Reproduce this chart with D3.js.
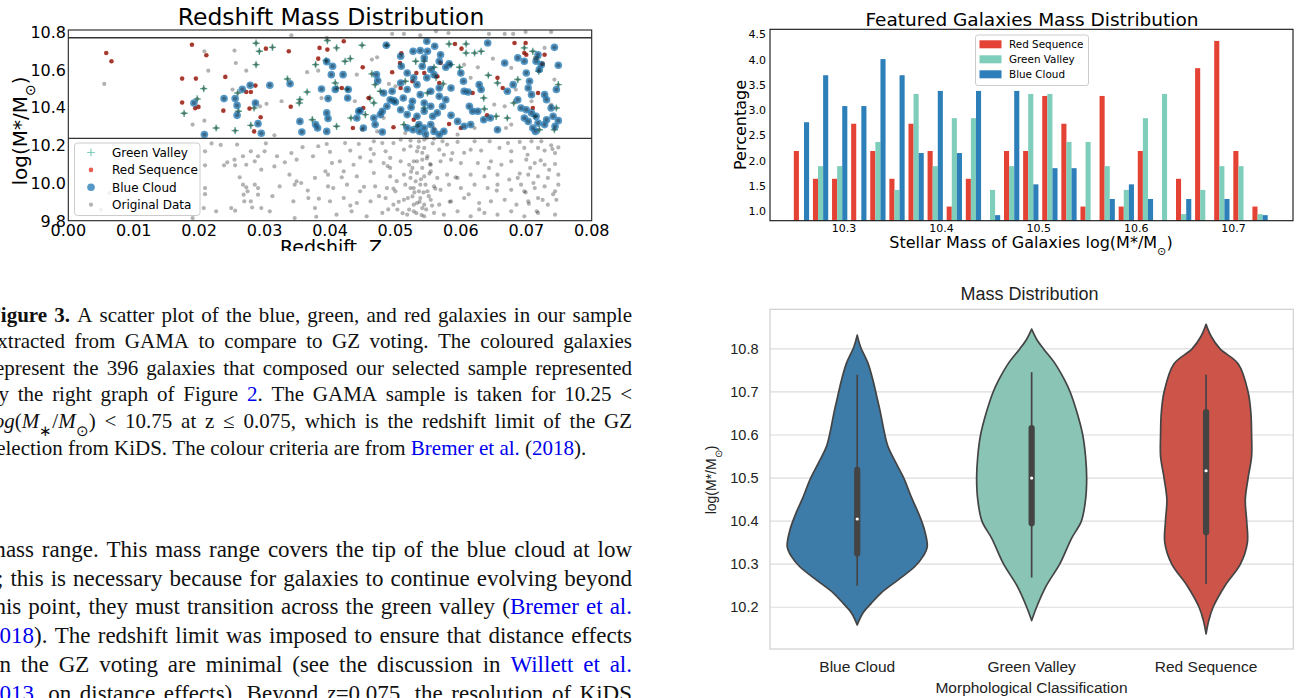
<!DOCTYPE html>
<html>
<head>
<meta charset="utf-8">
<script src="https://cdn.jsdelivr.net/npm/d3@7"></script>
<style>
  html, body { margin: 0; padding: 0; background: #fff; }
  svg { display: block; }
</style>
</head>
<body>
<svg id="fig" width="1301" height="698"></svg>
<script>
// ---------------------------------------------------------------
// Data
// ---------------------------------------------------------------

// Redshift / stellar-mass scatter: [z, log(M*/Msun)]
const zTicks = [0, 0.01, 0.02, 0.03, 0.04, 0.05, 0.06, 0.07, 0.08];
const massTicks = [9.8, 10.0, 10.2, 10.4, 10.6, 10.8];
const selectionBand = [10.237, 10.771];

const greenValley = [
  [0.0177,10.370],[0.0197,10.446],[0.0207,10.501],[0.0226,10.292],[0.0255,10.278],[0.0260,10.381],
  [0.0259,10.478],[0.0284,10.398],[0.0279,10.306],[0.0287,10.742],[0.0292,10.699],[0.0287,10.628],
  [0.0312,10.720],[0.0335,10.552],[0.0354,10.443],[0.0353,10.425],[0.0365,10.483],[0.0373,10.336],
  [0.0378,10.628],[0.0396,10.756],[0.0410,10.717],[0.0449,10.731],[0.0487,10.731],[0.0394,10.650],
  [0.0423,10.646],[0.0431,10.660],[0.0411,10.504],[0.0426,10.499],[0.0408,10.531],[0.0464,10.579],
  [0.0469,10.522],[0.0477,10.487],[0.0461,10.451],[0.0467,10.425],[0.0515,10.540],[0.0531,10.646],
  [0.0544,10.646],[0.0559,10.614],[0.0562,10.561],[0.0573,10.526],[0.0582,10.738],[0.0608,10.738],
  [0.0621,10.690],[0.0631,10.699],[0.0608,10.690],[0.0585,10.628],[0.0598,10.614],[0.0642,10.572],
  [0.0656,10.531],[0.0681,10.425],[0.0635,10.451],[0.0636,10.393],[0.0654,10.354],[0.0671,10.345],
  [0.0687,10.549],[0.0697,10.717],[0.0710,10.699],[0.0717,10.664],[0.0719,10.593],[0.0749,10.522],
  [0.0746,10.398],[0.0713,10.354],[0.0743,10.283],[0.0720,10.283],[0.0513,10.310],[0.0533,10.301],
  [0.0549,10.478],[0.0544,10.398],[0.0410,10.301],[0.0432,10.345],[0.0454,10.363]
];

const redSequence = [
  [0.0058,10.690],[0.0066,10.646],[0.0189,10.734],[0.0174,10.554],[0.0195,10.554],[0.0211,10.678],
  [0.0174,10.427],[0.0194,10.397],[0.0199,10.404],[0.0240,10.563],[0.0237,10.384],[0.0272,10.483],
  [0.0279,10.483],[0.0286,10.517],[0.0277,10.395],[0.0294,10.349],[0.0284,10.274],[0.0302,10.713],
  [0.0337,10.699],[0.0340,10.405],[0.0384,10.717],[0.0382,10.660],[0.0421,10.752],[0.0396,10.708],
  [0.0450,10.614],[0.0495,10.588],[0.0509,10.688],[0.0507,10.637],[0.0508,10.504],[0.0526,10.540],
  [0.0532,10.584],[0.0544,10.584],[0.0564,10.566],[0.0567,10.531],[0.0569,10.637],[0.0591,10.738],
  [0.0601,10.713],[0.0618,10.478],[0.0640,10.359],[0.0656,10.558],[0.0664,10.504],[0.0682,10.743],
  [0.0699,10.743],[0.0700,10.681],[0.0718,10.478],[0.0710,10.398],[0.0697,10.690],[0.0725,10.632],
  [0.0728,10.681],[0.0418,10.504],[0.0451,10.398],[0.0528,10.336],[0.0582,10.313],[0.0600,10.292],
  [0.0497,10.296],[0.0435,10.292],[0.0459,10.451]
];

const blueCloud = [
  [0.0192,10.425],[0.0208,10.257],[0.0238,10.448],[0.0255,10.448],[0.0258,10.412],[0.0258,10.359],
  [0.0266,10.497],[0.0278,10.519],[0.0286,10.425],[0.0290,10.315],[0.0295,10.264],[0.0308,10.519],
  [0.0339,10.527],[0.0354,10.327],[0.0357,10.271],[0.0378,10.310],[0.0381,10.292],[0.0387,10.499],
  [0.0395,10.644],[0.0395,10.372],[0.0397,10.448],[0.0397,10.342],[0.0395,10.274],[0.0402,10.575],
  [0.0486,10.731],[0.0508,10.673],[0.0509,10.620],[0.0527,10.699],[0.0538,10.703],[0.0548,10.752],
  [0.0549,10.699],[0.0560,10.726],[0.0569,10.681],[0.0567,10.646],[0.0544,10.664],[0.0541,10.620],
  [0.0554,10.602],[0.0577,10.614],[0.0582,10.632],[0.0600,10.584],[0.0404,10.620],[0.0408,10.496],
  [0.0420,10.575],[0.0428,10.496],[0.0427,10.451],[0.0444,10.381],[0.0441,10.345],[0.0467,10.345],
  [0.0469,10.310],[0.0480,10.271],[0.0471,10.575],[0.0473,10.543],[0.0482,10.478],[0.0495,10.487],
  [0.0497,10.437],[0.0480,10.381],[0.0487,10.407],[0.0500,10.430],[0.0512,10.451],[0.0518,10.496],
  [0.0524,10.402],[0.0533,10.354],[0.0536,10.310],[0.0544,10.292],[0.0546,10.260],[0.0554,10.310],
  [0.0557,10.354],[0.0564,10.372],[0.0572,10.407],[0.0567,10.460],[0.0577,10.442],[0.0585,10.359],
  [0.0595,10.327],[0.0605,10.487],[0.0604,10.540],[0.0611,10.483],[0.0613,10.407],[0.0618,10.381],
  [0.0626,10.381],[0.0628,10.522],[0.0631,10.496],[0.0635,10.336],[0.0641,10.743],[0.0656,10.283],
  [0.0667,10.637],[0.0671,10.487],[0.0680,10.522],[0.0687,10.664],[0.0697,10.646],[0.0700,10.584],
  [0.0705,10.540],[0.0703,10.504],[0.0708,10.469],[0.0687,10.442],[0.0692,10.398],[0.0697,10.345],
  [0.0703,10.327],[0.0710,10.292],[0.0718,10.681],[0.0715,10.646],[0.0723,10.628],[0.0720,10.602],
  [0.0728,10.469],[0.0731,10.442],[0.0743,10.720],[0.0749,10.625],[0.0746,10.496],[0.0738,10.398],
  [0.0741,10.354],[0.0749,10.331],[0.0700,10.389],[0.0708,10.372],[0.0715,10.354],[0.0718,10.318],
  [0.0731,10.336],[0.0744,10.301],[0.0728,10.310],[0.0714,10.274],[0.0446,10.384],[0.0451,10.292],
  [0.0477,10.363],[0.0492,10.442],[0.0518,10.292],[0.0527,10.283],[0.0537,10.274],[0.0559,10.274],
  [0.0567,10.257],[0.0574,10.274],[0.0605,10.301],[0.0615,10.310],[0.0645,10.345],[0.0508,10.531],
  [0.0518,10.584],[0.0533,10.522],[0.0528,10.558],[0.0508,10.389],[0.0518,10.363],[0.0526,10.434],
  [0.0544,10.425],[0.0544,10.381],[0.0554,10.407],[0.0538,10.469],[0.0554,10.487],[0.0548,10.558],
  [0.0559,10.575],[0.0567,10.504],[0.0585,10.504]
];

// Remainder of the GAMA parent sample (drawn together with the selected galaxies)
const otherGalaxies = [
  [0.0055,10.526],[0.0208,10.699],[0.0214,10.596],[0.0254,10.703],[0.0256,10.637],[0.0272,10.596],
  [0.0251,10.496],[0.0293,10.407],[0.0303,10.420],[0.0315,10.253],[0.0341,10.784],[0.0326,10.434],
  [0.0365,10.588],[0.0382,10.596],[0.0387,10.451],[0.0208,10.331],[0.0190,10.310],
  [0.0233,10.202],[0.0258,10.204],[0.0279,10.168],[0.0267,10.142],[0.0290,10.142],[0.0300,10.168],
  [0.0319,10.142],[0.0341,10.159],[0.0349,10.124],[0.0374,10.142],[0.0382,10.195],[0.0209,10.168],
  [0.0209,10.094],[0.0238,10.094],[0.0255,10.094],[0.0272,10.097],[0.0285,10.115],[0.0254,10.124],
  [0.0295,10.071],[0.0315,10.088],[0.0338,10.044],[0.0349,10.009],[0.0356,10.000],[0.0377,10.027],
  [0.0393,10.062],[0.0397,9.982],[0.0209,9.973],[0.0209,9.941],[0.0063,9.947],[0.0267,9.991],
  [0.0272,9.977],[0.0268,9.938],[0.0285,9.991],[0.0274,9.956],[0.0290,9.973],[0.0279,9.903],
  [0.0269,9.903],[0.0290,9.938],[0.0346,9.991],[0.0323,9.982],[0.0344,9.903],[0.0367,9.920],
  [0.0377,9.867],[0.0383,9.917],[0.0249,9.867],[0.0255,9.853],[0.0295,9.867],[0.0308,9.850],
  [0.0346,9.814],[0.0379,9.821],[0.0050,9.858],[0.0190,9.814],[0.0207,9.867],
  [0.0495,10.791],[0.0513,10.791],[0.0538,10.784],[0.0562,10.805],[0.0581,10.796],[0.0643,10.791],
  [0.0667,10.791],[0.0680,10.791],[0.0699,10.802],[0.0738,10.802],[0.0395,10.770],[0.0464,10.655],
  [0.0472,10.667],[0.0441,10.575],[0.0490,10.526],[0.0500,10.513],[0.0605,10.628],[0.0649,10.660],
  [0.0626,10.614],[0.0651,10.416],[0.0667,10.407],[0.0713,10.664],[0.0728,10.717],[0.0677,10.611],
  [0.0677,10.310],[0.0669,10.292],[0.0708,10.434],[0.0684,10.496],[0.0743,10.549],[0.0738,10.416],
  [0.0438,10.434],[0.0515,10.265],[0.0559,10.292],[0.0615,10.558],[0.0621,10.292],[0.0595,10.257],
  [0.0449,10.283],[0.0472,10.274],[0.0482,10.345],
  [0.0395,10.207],[0.0423,10.212],[0.0444,10.207],[0.0467,10.221],[0.0480,10.212],[0.0497,10.212],
  [0.0508,10.230],[0.0523,10.225],[0.0536,10.221],[0.0544,10.230],[0.0559,10.235],[0.0572,10.221],
  [0.0579,10.204],[0.0595,10.218],[0.0621,10.221],[0.0644,10.221],[0.0672,10.212],[0.0690,10.218],
  [0.0708,10.221],[0.0723,10.221],[0.0738,10.200],[0.0749,10.189],
  [0.0400,10.165],[0.0431,10.172],[0.0446,10.136],[0.0467,10.154],[0.0485,10.168],[0.0492,10.133],
  [0.0513,10.177],[0.0523,10.195],[0.0533,10.168],[0.0544,10.186],[0.0549,10.142],[0.0567,10.177],
  [0.0574,10.150],[0.0587,10.159],[0.0615,10.177],[0.0631,10.172],[0.0659,10.186],[0.0677,10.168],
  [0.0697,10.186],[0.0718,10.186],[0.0728,10.172],[0.0744,10.159],
  [0.0403,10.106],[0.0415,10.115],[0.0436,10.097],[0.0462,10.115],[0.0482,10.106],[0.0492,10.080],
  [0.0508,10.115],[0.0521,10.097],[0.0528,10.115],[0.0541,10.124],[0.0554,10.097],[0.0569,10.115],
  [0.0585,10.124],[0.0600,10.106],[0.0626,10.106],[0.0646,10.115],[0.0662,10.097],[0.0677,10.115],
  [0.0700,10.124],[0.0713,10.106],[0.0728,10.097],[0.0744,10.101],
  [0.0397,10.044],[0.0421,10.062],[0.0441,10.035],[0.0467,10.053],[0.0492,10.035],[0.0513,10.044],
  [0.0523,10.027],[0.0533,10.053],[0.0544,10.035],[0.0554,10.062],[0.0564,10.027],[0.0579,10.044],
  [0.0595,10.027],[0.0615,10.044],[0.0636,10.035],[0.0656,10.044],[0.0674,10.018],[0.0687,10.027],
  [0.0703,10.044],[0.0718,10.035],[0.0733,10.027],[0.0749,10.044],
  [0.0405,9.973],[0.0426,9.991],[0.0446,9.956],[0.0469,9.982],[0.0487,9.973],[0.0500,9.956],
  [0.0515,9.991],[0.0528,9.973],[0.0538,9.991],[0.0549,9.956],[0.0559,9.982],[0.0569,9.964],
  [0.0582,9.991],[0.0600,9.973],[0.0621,9.991],[0.0641,9.973],[0.0656,9.991],[0.0677,9.964],
  [0.0692,9.991],[0.0697,9.956],[0.0713,9.973],[0.0728,9.982],[0.0744,9.956],[0.0749,9.991],
  [0.0400,9.903],[0.0421,9.920],[0.0441,9.894],[0.0462,9.903],[0.0485,9.920],[0.0497,9.885],
  [0.0513,9.911],[0.0526,9.929],[0.0533,9.894],[0.0541,9.867],[0.0554,9.911],[0.0567,9.885],
  [0.0585,9.903],[0.0605,9.920],[0.0628,9.894],[0.0646,9.903],[0.0667,9.911],[0.0685,9.885],
  [0.0703,9.903],[0.0718,9.920],[0.0733,9.885],[0.0746,9.911],
  [0.0410,9.832],[0.0433,9.850],[0.0456,9.823],[0.0480,9.841],[0.0503,9.859],[0.0518,9.832],
  [0.0528,9.850],[0.0544,9.823],[0.0559,9.841],[0.0574,9.832],[0.0595,9.850],[0.0615,9.823],
  [0.0636,9.841],[0.0656,9.832],[0.0677,9.850],[0.0697,9.823],[0.0718,9.841],[0.0744,9.832],
  [0.0526,10.080],[0.0531,10.009],[0.0536,9.956],[0.0538,9.920],[0.0544,9.885],[0.0546,9.991],
  [0.0523,9.973],[0.0528,9.885],[0.0521,9.859],[0.0541,10.080],[0.0533,10.115],
  [0.0535,10.19],[0.0541,10.16],[0.0548,10.13],[0.0552,10.05],[0.0539,10.02],[0.0543,9.95],
  [0.0551,9.93],[0.0537,9.90],[0.0547,9.86],[0.0532,9.84],[0.0556,9.88],[0.0529,9.95],
  [0.0524,10.06],[0.0557,10.21],[0.0548,10.24],[0.0553,10.10],[0.0540,9.83],[0.0519,9.92],
  [0.0561,9.97],[0.0502,10.01],[0.0497,9.97],[0.0505,9.90],[0.0489,9.86],[0.0511,9.84],
  [0.0702,10.15],[0.0706,10.08],[0.0711,10.00],[0.0699,9.95],[0.0704,9.89],[0.0716,9.85],
  [0.0722,10.12],[0.0735,10.07],[0.0741,9.94],[0.0725,9.91],[0.0690,10.05],[0.0740,10.18],
  [0.0605,10.16],[0.0612,9.94],[0.0628,9.86],[0.0643,10.08],[0.0655,9.96],[0.0592,10.03],
  [0.0583,9.90],[0.0462,10.18],[0.0452,9.98],[0.0431,9.88],[0.0418,10.03],[0.0475,9.93],
  [0.0488,10.09],[0.0219,10.21],[0.0243,10.11],[0.0262,10.03],[0.0281,9.87],[0.0302,10.21],
  [0.0331,10.11],[0.0358,10.19],[0.0366,9.96],[0.0312,9.93],[0.0226,9.85]
];

// Histogram of featured galaxies (percentage per stellar-mass bin)
const histSeries = ["Red Sequence", "Green Valley", "Blue Cloud"];
const histBinStart = 10.2465;
const histBinWidth = 0.01962;
const redPct   = [2.19,1.64,1.64,2.73,2.19,1.64,2.73,2.19,1.09,1.64,0,2.19,2.19,3.28,2.73,1.09,3.28,1.09,2.19,0,1.64,3.83,4.37,2.19,1.09];
const greenPct = [0,1.89,1.89,0,2.37,1.42,3.32,1.89,2.84,2.84,1.42,1.89,3.32,3.32,2.37,2.37,1.89,1.42,2.84,3.32,0.94,1.42,1.89,1.89,0.94];
const bluePct  = [2.76,3.69,3.08,3.08,4.01,3.69,2.15,3.38,2.15,3.38,0.92,3.38,1.53,1.85,1.85,0,1.24,1.53,1.24,0,1.24,0,1.24,0,0.92];
const histXTicks = [10.3, 10.4, 10.5, 10.6, 10.7];
const histYTicks = [1.0, 1.5, 2.0, 2.5, 3.0, 3.5, 4.0, 4.5];

// Violin plot: kernel density profiles [mass, relative density]
const violinClasses = ["Blue Cloud", "Green Valley", "Red Sequence"];
const blueDensity = [
  [10.159,0],[10.186,0.08],[10.209,0.20],[10.233,0.34],[10.263,0.58],[10.294,0.82],[10.318,0.94],
  [10.341,1.0],[10.380,0.96],[10.418,0.876],[10.457,0.77],[10.496,0.676],[10.534,0.557],[10.573,0.44],
  [10.612,0.38],[10.651,0.333],[10.689,0.28],[10.728,0.224],[10.767,0.153],[10.805,0.047],[10.832,0]
];
const greenDensity = [
  [10.169,0],[10.2,0.07],[10.25,0.21],[10.3,0.40],[10.36,0.57],[10.4,0.71],[10.45,0.77],[10.5,0.786],
  [10.55,0.77],[10.6,0.73],[10.651,0.65],[10.7,0.55],[10.728,0.47],[10.767,0.33],[10.8,0.17],[10.82,0.08],[10.846,0]
];
const redDensity = [
  [10.138,0],[10.17,0.04],[10.2,0.10],[10.25,0.27],[10.3,0.49],[10.35,0.59],[10.4,0.58],[10.45,0.56],
  [10.5,0.60],[10.55,0.65],[10.6,0.65],[10.651,0.64],[10.7,0.6],[10.765,0.46],[10.8,0.2],[10.83,0.07],[10.857,0]
];
const whiskerLow  = [10.250, 10.269, 10.254];
const quartile1   = [10.325, 10.395, 10.374];
const medianMass  = [10.405, 10.500, 10.517];
const quartile3   = [10.519, 10.616, 10.653];
const whiskerHigh = [10.740, 10.746, 10.740];
const violinYTicks = [10.2, 10.3, 10.4, 10.5, 10.6, 10.7, 10.8];

// Caption and body text (markup: *bold*, _italic_, [link], ~subscript~)
const captionLines = [
  "*Figure* *3.* A scatter plot of the blue, green, and red galaxies in our sample",
  "extracted from GAMA to compare to GZ voting. The coloured galaxies",
  "represent the 396 galaxies that composed our selected sample represented",
  "by the right graph of Figure [2]. The GAMA sample is taken for 10.25 <",
  "_log_(_M_~∗~/_M_~⊙~) < 10.75 at z ≤ 0.075, which is the redshift limit of the GZ",
  "selection from KiDS. The colour criteria are from [Bremer] [et] [al.] ([2018])."
];
const bodyLines = [
  "mass range. This mass range covers the tip of the blue cloud at low",
  "_z_; this is necessary because for galaxies to continue evolving beyond",
  "this point, they must transition across the green valley ([Bremer] [et] [al.]",
  "[2018]). The redshift limit was imposed to ensure that distance effects",
  "on the GZ voting are minimal (see the discussion in [Willett] [et] [al.]",
  "[2013], on distance effects). Beyond _z_=0.075, the resolution of KiDS"
];

// ---------------------------------------------------------------
// Drawing
// ---------------------------------------------------------------
const svg = d3.select("#fig");
const SANS = "DejaVu Sans";
const ARIAL = "Liberation Sans";
const SERIF = "Liberation Serif";

// Text with a subscript solar symbol: "log(M*/M" + sub "⊙" + ")"
function massLabel(sel, prefix) {
  sel.append("tspan").text(prefix + "log(M*/M");
  sel.append("tspan").attr("baseline-shift", "sub").attr("font-size", "70%").text("\u2299");
  sel.append("tspan").text(")");
  return sel;
}

// ---------- Panel 1: scatter ----------
(function scatter() {
  const x = d3.scaleLinear().domain([0, 0.08]).range([68.3, 591.7]);
  const y = d3.scaleLinear().domain([9.8, 10.812]).range([220.7, 30]);
  const defs = svg.append("defs");
  defs.append("clipPath").attr("id", "scClip")
    .append("rect").attr("x", 0).attr("y", 0).attr("width", 660).attr("height", 251);
  const g = svg.append("g").attr("clip-path", "url(#scClip)");

  g.append("text").attr("x", 331).attr("y", 25).attr("text-anchor", "middle")
    .attr("font-family", SANS).attr("font-size", 23.5).text("Redshift Mass Distribution");

  const plot = g.append("g");
  // selected galaxies
  plot.selectAll("path.gv").data(greenValley).enter().append("path")
    .attr("transform", d => `translate(${x(d[0])},${y(d[1])})`)
    .attr("d", "M-3.6,0H3.6M0,-3.6V3.6").attr("stroke", "#5fae98").attr("stroke-width", 1.4).attr("fill", "none");
  plot.selectAll("circle.rs").data(redSequence).enter().append("circle")
    .attr("cx", d => x(d[0])).attr("cy", d => y(d[1])).attr("r", 2.3)
    .attr("fill", "#e34234").attr("fill-opacity", 0.9);
  plot.selectAll("circle.bc").data(blueCloud).enter().append("circle")
    .attr("cx", d => x(d[0])).attr("cy", d => y(d[1])).attr("r", 3.8)
    .attr("fill", "#2c7fb8").attr("fill-opacity", 0.8);
  // full parent sample on top
  const allGalaxies = otherGalaxies.concat(greenValley, redSequence, blueCloud);
  plot.selectAll("circle.od").data(allGalaxies).enter().append("circle")
    .attr("cx", d => x(d[0])).attr("cy", d => y(d[1])).attr("r", 2.1)
    .attr("fill", "#000").attr("fill-opacity", 0.3);

  // selection limits
  g.selectAll("line.band").data(selectionBand).enter().append("line")
    .attr("x1", x(0)).attr("x2", x(0.08)).attr("y1", d => y(d)).attr("y2", d => y(d))
    .attr("stroke", "#333").attr("stroke-width", 1.3);

  // frame
  g.append("rect").attr("x", x(0)).attr("y", y(10.812)).attr("width", x(0.08) - x(0))
    .attr("height", y(9.8) - y(10.812)).attr("fill", "none").attr("stroke", "#222").attr("stroke-width", 1.1);

  // ticks
  g.selectAll("text.xt").data(zTicks).enter().append("text")
    .attr("x", d => x(d)).attr("y", 236).attr("text-anchor", "middle")
    .attr("font-family", SANS).attr("font-size", 16).text(d => d.toFixed(2));
  g.selectAll("text.yt").data(massTicks).enter().append("text")
    .attr("x", 66).attr("y", d => y(d) + 5.8).attr("text-anchor", "end")
    .attr("font-family", SANS).attr("font-size", 16).text(d => d.toFixed(1));

  g.append("text").attr("x", 331).attr("y", 254).attr("text-anchor", "middle")
    .attr("font-family", SANS).attr("font-size", 19).text("Redshift, Z");
  massLabel(g.append("text").attr("transform", "translate(27,131) rotate(-90)")
    .attr("text-anchor", "middle").attr("font-family", SANS).attr("font-size", 20), "");

  // legend
  const lg = g.append("g");
  lg.append("rect").attr("x", 74.5).attr("y", 143).attr("width", 125.5).attr("height", 72.5).attr("rx", 3)
    .attr("fill", "#fff").attr("fill-opacity", 0.8).attr("stroke", "#cccccc");
  const entries = ["Green Valley", "Red Sequence", "Blue Cloud", "Original Data"];
  const ly = d3.scalePoint().domain(entries).range([152.5, 204.7]);
  lg.append("path").attr("transform", `translate(91,${ly("Green Valley")})`)
    .attr("d", "M-3.8,0H3.8M0,-3.8V3.8").attr("stroke", "#7fcdbb").attr("stroke-width", 1.2);
  lg.append("circle").attr("cx", 91).attr("cy", ly("Red Sequence")).attr("r", 2.3).attr("fill", "#e34234").attr("fill-opacity", 0.85);
  lg.append("circle").attr("cx", 91).attr("cy", ly("Blue Cloud")).attr("r", 3.8).attr("fill", "#2c7fb8").attr("fill-opacity", 0.8);
  lg.append("circle").attr("cx", 91).attr("cy", ly("Original Data")).attr("r", 2.1).attr("fill", "#000").attr("fill-opacity", 0.3);
  lg.selectAll("text").data(entries).enter().append("text")
    .attr("x", 112).attr("y", d => ly(d) + 4.3).attr("font-family", SANS).attr("font-size", 12).text(d => d);
})();

// ---------- Panel 2: histogram ----------
(function histogram() {
  const x = d3.scaleLinear().domain([10.224, 10.761]).range([770, 1293]);
  const y = d3.scaleLinear().domain([0.81, 4.6]).range([220.7, 29.3]);
  const colors = { "Red Sequence": "#e34234", "Green Valley": "#7fcdbb", "Blue Cloud": "#2c7fb8" };
  const values = { "Red Sequence": redPct, "Green Valley": greenPct, "Blue Cloud": bluePct };
  const g = svg.append("g");

  g.append("text").attr("x", 1032).attr("y", 25.5).attr("text-anchor", "middle")
    .attr("font-family", SANS).attr("font-size", 18.5).text("Featured Galaxies Mass Distribution");

  const sub = histBinWidth * 0.8 / histSeries.length;
  histSeries.forEach((s, si) => {
    const rows = values[s].map((v, i) => ({ v, left: histBinStart + i * histBinWidth + histBinWidth * 0.1 + si * sub }));
    g.selectAll(null).data(rows.filter(r => r.v > 0.81)).enter().append("rect")
      .attr("x", d => x(d.left)).attr("width", d => x(d.left + sub) - x(d.left))
      .attr("y", d => y(d.v)).attr("height", d => y(0.81) - y(d.v))
      .attr("fill", colors[s]);
  });

  g.append("rect").attr("x", 770).attr("y", y(4.6)).attr("width", 523).attr("height", y(0.81) - y(4.6))
    .attr("fill", "none").attr("stroke", "#111").attr("stroke-width", 1.1);

  g.selectAll("text.xt").data(histXTicks).enter().append("text")
    .attr("x", d => x(d)).attr("y", 231.5).attr("text-anchor", "middle")
    .attr("font-family", SANS).attr("font-size", 11).text(d => d.toFixed(1));
  g.selectAll("text.yt").data(histYTicks).enter().append("text")
    .attr("x", 766).attr("y", d => y(d) + 4).attr("text-anchor", "end")
    .attr("font-family", SANS).attr("font-size", 11).text(d => d.toFixed(1));

  massLabel(g.append("text").attr("x", 1031).attr("y", 247.5).attr("text-anchor", "middle")
    .attr("font-family", SANS).attr("font-size", 16), "Stellar Mass of Galaxies ");
  g.append("text").attr("transform", "translate(746,125) rotate(-90)").attr("text-anchor", "middle")
    .attr("font-family", SANS).attr("font-size", 16).text("Percentage");

  const lg = g.append("g");
  lg.append("rect").attr("x", 975.5).attr("y", 35).attr("width", 113).attr("height", 50.5).attr("rx", 2.5)
    .attr("fill", "#fff").attr("fill-opacity", 0.8).attr("stroke", "#cccccc");
  const ly = d3.scalePoint().domain(histSeries).range([44.3, 74.3]);
  lg.selectAll("rect.sw").data(histSeries).enter().append("rect")
    .attr("x", 979.5).attr("y", d => ly(d) - 4).attr("width", 22).attr("height", 8).attr("fill", d => colors[d]);
  lg.selectAll("text").data(histSeries).enter().append("text")
    .attr("x", 1009).attr("y", d => ly(d) + 3.7).attr("font-family", SANS).attr("font-size", 10.4).text(d => d);
})();

// ---------- Panel 3: violin ----------
(function violin() {
  const x = d3.scaleBand().domain(violinClasses).range([770, 1293.3]);
  const y = d3.scaleLinear().domain([10.103, 10.892]).range([649, 309.3]);
  const w = d3.scaleLinear().domain([0, 1]).range([0, 70]);
  const fills = { "Blue Cloud": "#3d7ba9", "Green Valley": "#89c4b5", "Red Sequence": "#cd5449" };
  const profiles = { "Blue Cloud": blueDensity, "Green Valley": greenDensity, "Red Sequence": redDensity };
  const g = svg.append("g");

  g.append("text").attr("x", 1029.5).attr("y", 300.3).attr("text-anchor", "middle")
    .attr("font-family", ARIAL).attr("font-size", 18).attr("fill", "#222").text("Mass Distribution");

  g.selectAll("line.grid").data(violinYTicks).enter().append("line")
    .attr("x1", 770).attr("x2", 1293.3).attr("y1", d => y(d)).attr("y2", d => y(d))
    .attr("stroke", "#dcdcdc").attr("stroke-width", 1.2);
  g.append("rect").attr("x", 770).attr("y", 309.3).attr("width", 523.3).attr("height", 649 - 309.3)
    .attr("fill", "none").attr("stroke", "#d0d0d0").attr("stroke-width", 1.2);

  violinClasses.forEach((c, i) => {
    const cx = x(c) + x.bandwidth() / 2;
    const area = d3.area().curve(d3.curveCatmullRom.alpha(0.5))
      .y(d => y(d[0])).x0(d => cx - w(d[1])).x1(d => cx + w(d[1]));
    g.append("path").attr("d", area(profiles[c])).attr("fill", fills[c])
      .attr("stroke", "#444").attr("stroke-width", 1.7).attr("stroke-linejoin", "round");
    g.append("line").attr("x1", cx).attr("x2", cx).attr("y1", y(whiskerLow[i])).attr("y2", y(whiskerHigh[i]))
      .attr("stroke", "#444").attr("stroke-width", 1.7);
    g.append("line").attr("x1", cx).attr("x2", cx).attr("y1", y(quartile1[i])).attr("y2", y(quartile3[i]))
      .attr("stroke", "#444").attr("stroke-width", 6.2).attr("stroke-linecap", "round");
    g.append("circle").attr("cx", cx).attr("cy", y(medianMass[i])).attr("r", 1.6).attr("fill", "#fff");
  });

  g.selectAll("text.yt").data(violinYTicks).enter().append("text")
    .attr("x", 758.5).attr("y", d => y(d) + 5.2).attr("text-anchor", "end")
    .attr("font-family", ARIAL).attr("font-size", 14.5).attr("fill", "#222").text(d => d.toFixed(1));
  g.selectAll("text.xt").data(violinClasses).enter().append("text")
    .attr("x", d => x(d) + x.bandwidth() / 2).attr("y", 671.5).attr("text-anchor", "middle")
    .attr("font-family", ARIAL).attr("font-size", 15.5).attr("fill", "#222").text(d => d);
  g.append("text").attr("x", 1031.5).attr("y", 692.8).attr("text-anchor", "middle")
    .attr("font-family", ARIAL).attr("font-size", 15.5).attr("fill", "#222").text("Morphological Classification");
  massLabel(g.append("text").attr("transform", "translate(716,480) rotate(-90)").attr("text-anchor", "middle")
    .attr("font-family", ARIAL).attr("font-size", 14).attr("fill", "#222"), "");
})();

// ---------- Caption and body text ----------
function runsOf(word) {
  const runs = []; let st = { b: false, i: false, link: false, sub: false }; let buf = "";
  const flush = () => { if (buf) { runs.push(Object.assign({ t: buf }, st)); buf = ""; } };
  for (const ch of word) {
    if (ch === "*") { flush(); st = Object.assign({}, st, { b: !st.b }); }
    else if (ch === "_") { flush(); st = Object.assign({}, st, { i: !st.i }); }
    else if (ch === "[") { flush(); st = Object.assign({}, st, { link: true }); }
    else if (ch === "]") { flush(); st = Object.assign({}, st, { link: false }); }
    else if (ch === "~") { flush(); st = Object.assign({}, st, { sub: !st.sub }); }
    else buf += ch;
  }
  flush();
  return runs;
}

function setParagraph(lines, opts) {
  const g = svg.append("g").attr("font-family", SERIF).attr("font-size", opts.size).attr("fill", "#111");
  lines.forEach((line, li) => {
    const words = line.split(" ");
    const baseline = opts.top + li * opts.lead;
    const nodes = words.map(wd => {
      const t = g.append("text").attr("y", baseline);
      runsOf(wd).forEach(r => {
        const s = t.append("tspan").text(r.t);
        if (r.b) s.attr("font-weight", "bold");
        if (r.i) s.attr("font-style", "italic");
        if (r.link) s.attr("fill", "#0000ee");
        if (r.sub) s.attr("baseline-shift", "sub").attr("font-size", "70%");
      });
      return t;
    });
    const widths = nodes.map(n => n.node().getComputedTextLength());
    const total = d3.sum(widths);
    const justify = !(opts.lastLoose && li === lines.length - 1);
    const gap = justify ? (opts.right - opts.left - total) / (words.length - 1) : opts.size * 0.25;
    let cx = opts.left;
    nodes.forEach((n, i) => { n.attr("x", cx); cx += widths[i] + gap; });
  });
}

setParagraph(captionLines, { left: -12, right: 632, top: 321.5, lead: 26.6, size: 21, lastLoose: true });
setParagraph(bodyLines, { left: -12, right: 632, top: 557, lead: 28.7, size: 23, lastLoose: false });
</script>
</body>
</html>
